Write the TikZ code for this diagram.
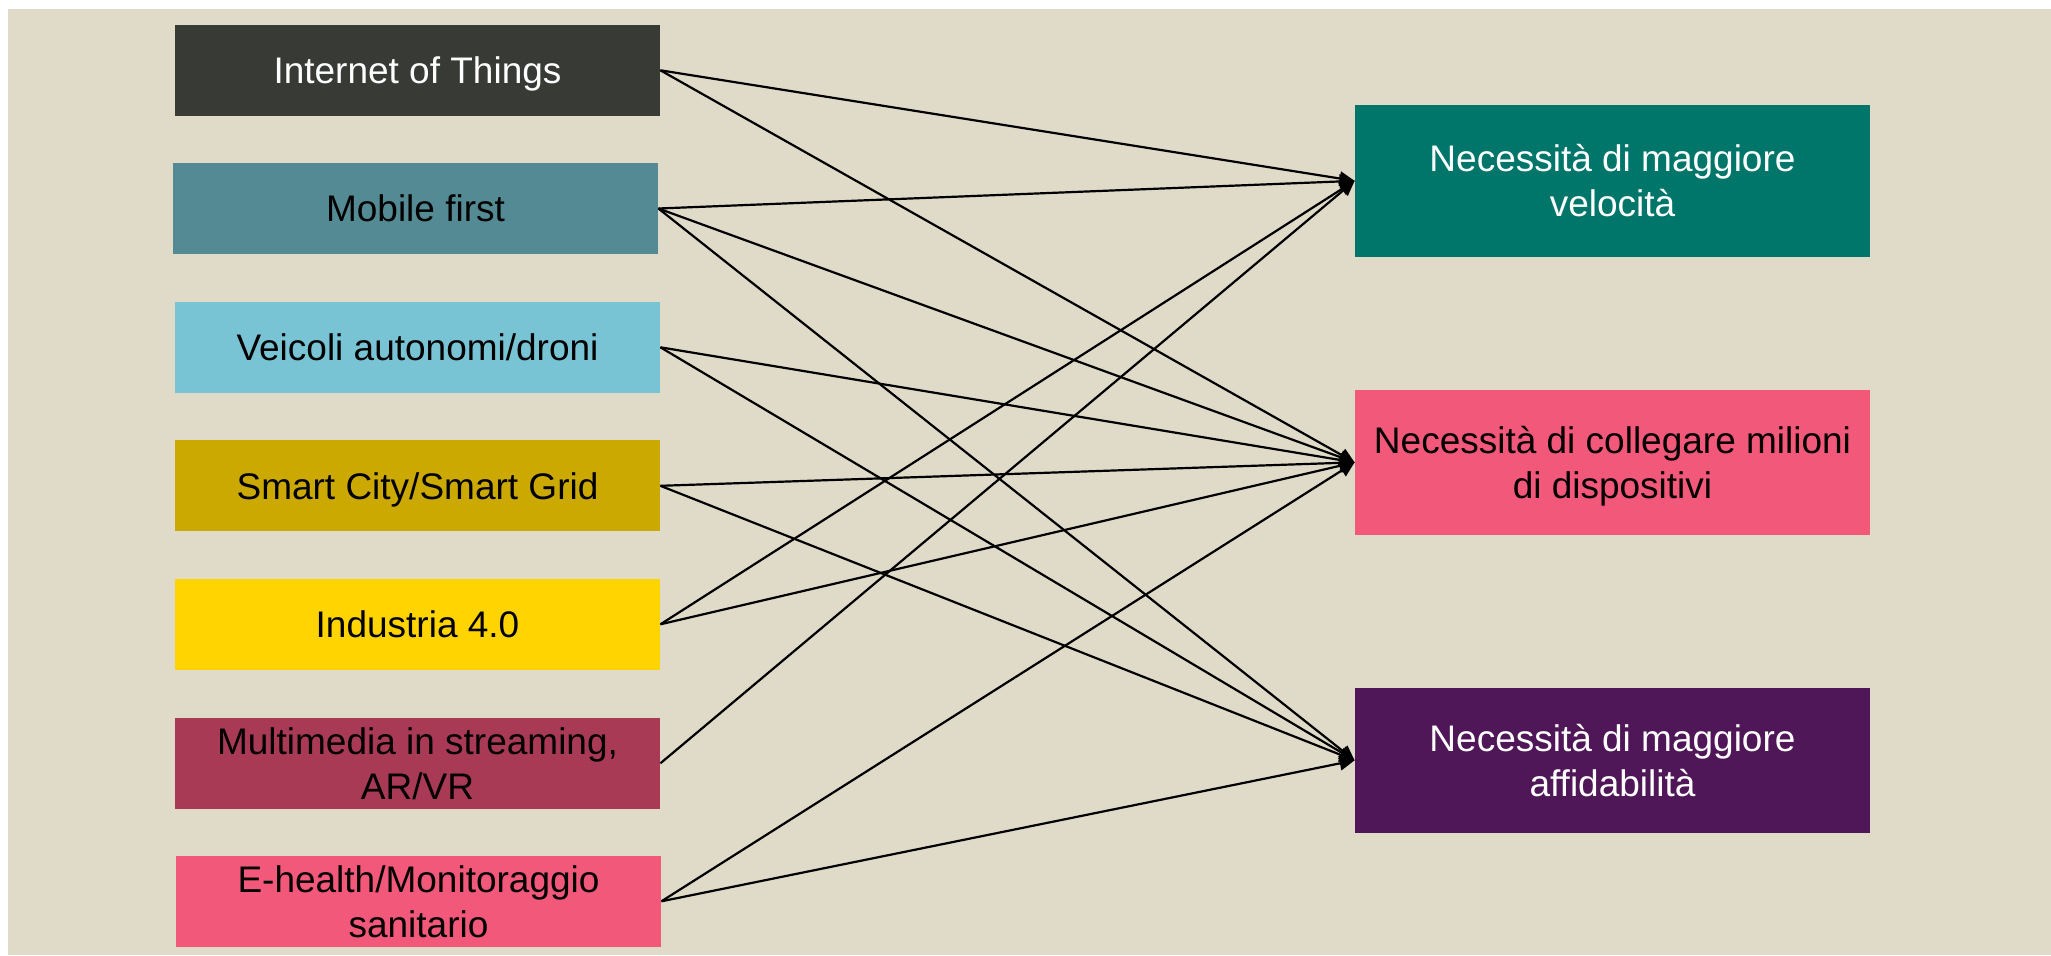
\documentclass[tikz,border=0pt]{standalone}
\usepackage{fontspec}
\setmainfont{Liberation Sans}
\usetikzlibrary{arrows.meta}
\definecolor{bgc}{HTML}{E0DAC8}
\definecolor{ciot}{HTML}{383A36}
\definecolor{cmob}{HTML}{548A94}
\definecolor{cvei}{HTML}{79C4D4}
\definecolor{csmart}{HTML}{CBA900}
\definecolor{cind}{HTML}{FFD400}
\definecolor{cmm}{HTML}{A83A56}
\definecolor{cpink}{HTML}{F2587A}
\definecolor{cteal}{HTML}{00756A}
\definecolor{cpurp}{HTML}{4F1757}
\tikzset{
  boxfont/.style={font=\fontsize{18.5pt}{22.5pt}\selectfont},
  lbox/.style={rectangle, inner sep=0pt, minimum width=242.5pt, minimum height=45.35pt, boxfont, text height=17.87pt, text depth=4.63pt},
  lboxtwo/.style={lbox, text height=10pt, text depth=19.26pt},
  rbox/.style={rectangle, inner sep=0pt, minimum width=257.5pt, minimum height=72.35pt, boxfont, text height=10pt, text depth=19.26pt},
  conn/.style={line width=1.1pt, -{Triangle[length=7.5pt,width=7pt]}}
}
\newcommand{\twolines}[2]{\begin{tabular}[t]{@{}c@{}}#1\\#2\end{tabular}}
\begin{document}
\begin{tikzpicture}[x=0.5pt,y=-0.5pt]
\useasboundingbox (0,0) rectangle (2051,955);
\fill[bgc] (8,9) rectangle (2051,955);
% left boxes
\node[lbox, fill=ciot, text=white] (iot) at (417.5,70.3) {Internet of Things};
\node[lbox, fill=cmob] (mob) at (415.5,208.5) {Mobile first};
\node[lbox, fill=cvei] (vei) at (417.5,347.3) {Veicoli autonomi/droni};
\node[lbox, fill=csmart] (smart) at (417.5,485.8) {Smart City/Smart Grid};
\node[lbox, fill=cind] (ind) at (417.5,624.3) {Industria 4.0};
\node[lboxtwo, fill=cmm] (mm) at (417.5,763.3) {\twolines{Multimedia in streaming,}{AR/VR}};
\node[lboxtwo, fill=cpink] (eh) at (418.5,901.3) {\twolines{E-health/Monitoraggio}{sanitario}};
% right boxes
\node[rbox, fill=cteal, text=white, minimum height=75.85pt] (vel) at (1612.5,180.85) {\twolines{Necessità di maggiore}{velocità}};
\node[rbox, fill=cpink] (col) at (1612.5,462.35) {\twolines{Necessità di collegare milioni}{di dispositivi}};
\node[rbox, fill=cpurp, text=white] (aff) at (1612.5,760.35) {\twolines{Necessità di maggiore}{affidabilità}};
% connectors
\draw[conn] (iot.east) -- (vel.west);
\draw[conn] (iot.east) -- (col.west);
\draw[conn] (mob.east) -- (vel.west);
\draw[conn] (mob.east) -- (col.west);
\draw[conn] (mob.east) -- (aff.west);
\draw[conn] (vei.east) -- (col.west);
\draw[conn] (vei.east) -- (aff.west);
\draw[conn] (smart.east) -- (col.west);
\draw[conn] (smart.east) -- (aff.west);
\draw[conn] (ind.east) -- (vel.west);
\draw[conn] (ind.east) -- (col.west);
\draw[conn] (mm.east) -- (vel.west);
\draw[conn] (eh.east) -- (col.west);
\draw[conn] (eh.east) -- (aff.west);
\end{tikzpicture}
\end{document}
